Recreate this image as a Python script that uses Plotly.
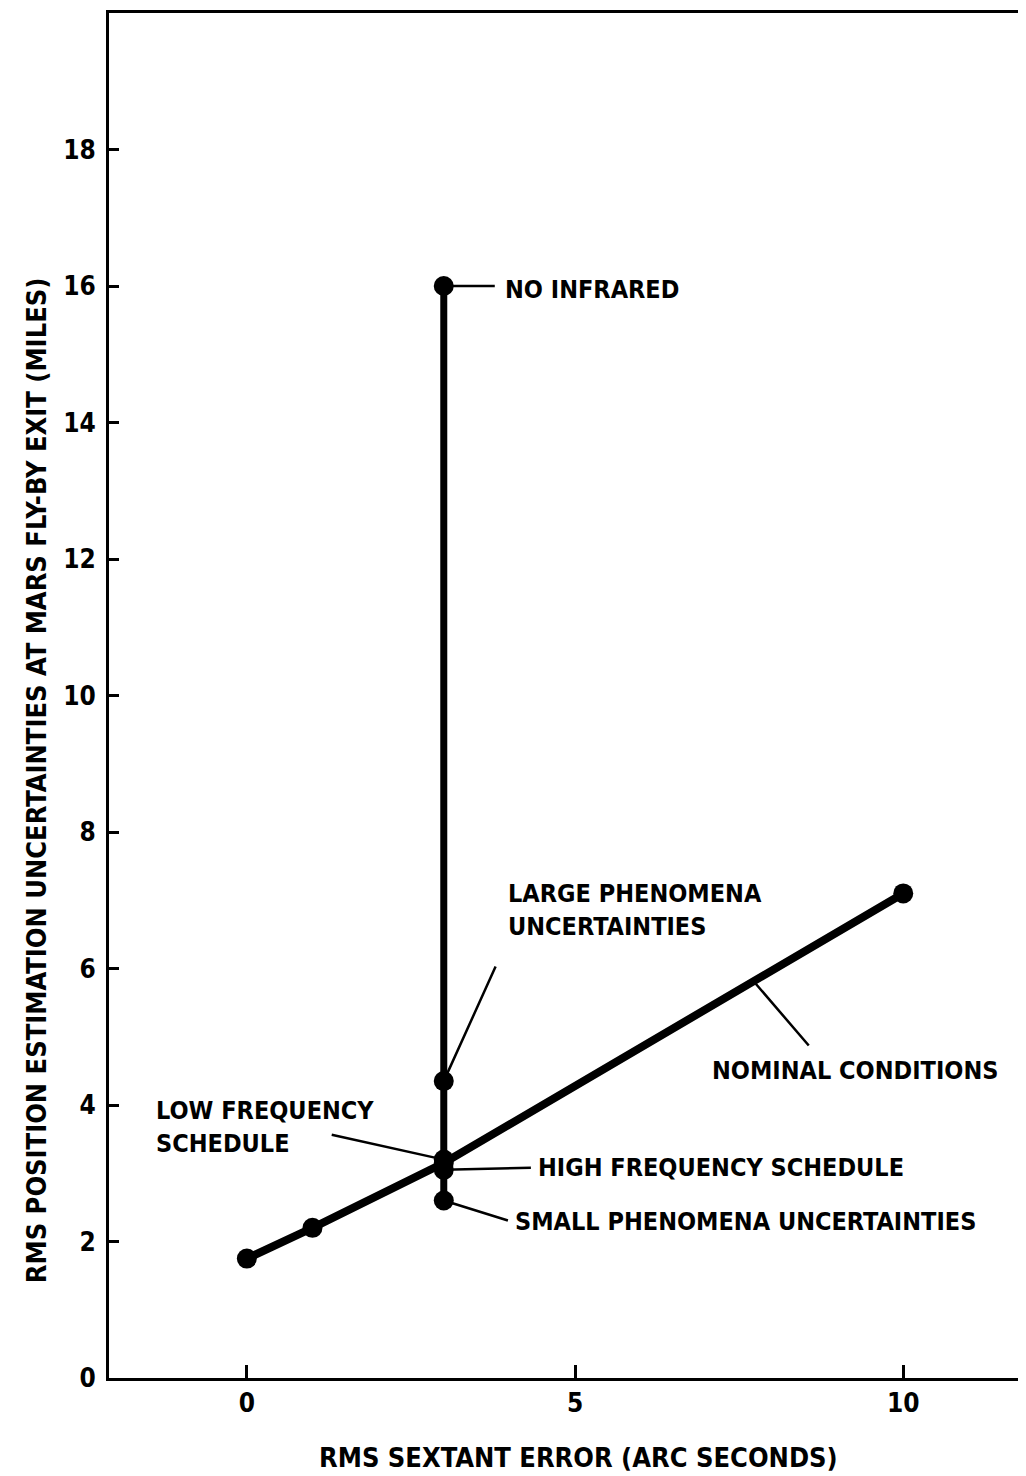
import numpy as np
import plotly.graph_objects as go

# Nominal conditions curve
nominal_x = [0, 1, 3, 10]
nominal_y = [1.75, 2.2, 3.15, 7.1]

# Variations at 3 arc-second sextant error
variant_x = [3, 3, 3, 3, 3]
variant_y = [2.6, 3.05, 3.2, 4.35, 16.0]
variant_names = ["SMALL PHENOMENA UNCERTAINTIES", "HIGH FREQUENCY SCHEDULE",
                 "LOW FREQUENCY SCHEDULE", "LARGE PHENOMENA UNCERTAINTIES", "NO INFRARED"]

x_ticks = [0, 5, 10]
y_ticks = [0, 2, 4, 6, 8, 10, 12, 14, 16, 18]

FONT = "Liberation Sans Narrow, Arial Narrow, DejaVu Sans Condensed, sans-serif"
fsize_lab = 25
fsize_ax = 27
fsize_tick = 26

fig = go.Figure()
fig.add_trace(go.Scatter(x=variant_x, y=variant_y, mode="lines+markers",
                         line=dict(color="black", width=7),
                         marker=dict(color="black", size=20), showlegend=False))
fig.add_trace(go.Scatter(x=nominal_x, y=nominal_y, mode="lines+markers",
                         line=dict(color="black", width=8),
                         marker=dict(color="black", size=20), showlegend=False))

def lead(hx, hy, tx, ty):
    fig.add_annotation(x=hx, y=hy, ax=tx, ay=ty, xref="x", yref="y", axref="x", ayref="y",
                       text="", showarrow=True, arrowhead=0, arrowwidth=2.5,
                       arrowcolor="black")

def label(x, y, txt, xanchor="left", yanchor="middle"):
    fig.add_annotation(x=x, y=y, xref="x", yref="y", text=txt, showarrow=False,
                       xanchor=xanchor, yanchor=yanchor, align="left",
                       font=dict(family=FONT, size=fsize_lab, color="black", weight="bold"))

nom_at = lambda xx: float(np.interp(xx, nominal_x, nominal_y))

# NO INFRARED
lead(3, variant_y[4], 3.8, variant_y[4])
label(3.9, 15.95, "NO INFRARED")
# LARGE PHENOMENA
lead(3, variant_y[3], 3.8, 6.05)
label(3.95, 6.86, "LARGE PHENOMENA<br>UNCERTAINTIES")
# NOMINAL CONDITIONS
lead(7.72, nom_at(7.72), 8.58, 4.85)
label(7.05, 4.5, "NOMINAL CONDITIONS")
# LOW FREQUENCY
lead(3, variant_y[2], 1.27, 3.57)
label(-1.42, 3.68, "LOW FREQUENCY<br>SCHEDULE")
# HIGH FREQUENCY
lead(3, variant_y[1], 4.35, 3.08)
label(4.4, 3.08, "HIGH FREQUENCY SCHEDULE")
# SMALL PHENOMENA
lead(3, variant_y[0], 4.0, 2.3)
label(4.05, 2.3, "SMALL PHENOMENA UNCERTAINTIES")

# axis titles
fig.add_annotation(xref="paper", yref="paper", x=-0.0795, y=0.438, textangle=-90,
                   text="RMS POSITION ESTIMATION UNCERTAINTIES AT MARS FLY-BY EXIT (MILES)",
                   showarrow=False, xanchor="center", yanchor="middle",
                   font=dict(family=FONT, size=fsize_ax, color="black", weight="bold"))
fig.add_annotation(xref="paper", yref="paper", x=0.512, y=-0.0586,
                   text="RMS SEXTANT ERROR (ARC SECONDS)",
                   showarrow=False, xanchor="center", yanchor="middle",
                   font=dict(family=FONT, size=fsize_ax, color="black", weight="bold"))

fig.update_xaxes(range=[-2.1, 11.87], tickvals=x_ticks, ticktext=[str(v) for v in x_ticks],
                 showgrid=False, zeroline=False, showline=True, linecolor="black", linewidth=3,
                 mirror=True, ticks="inside", ticklen=13, tickwidth=3, tickcolor="black",
                 tickfont=dict(family=FONT, size=fsize_tick, color="black", weight="bold"))
fig.update_yaxes(range=[0, 20], tickvals=y_ticks, ticktext=[str(v) for v in y_ticks],
                 showgrid=False, zeroline=False, showline=True, linecolor="black", linewidth=3,
                 mirror=False, ticks="inside", ticklen=10, tickwidth=3, tickcolor="black",
                 ticklabelstandoff=5,
                 tickfont=dict(family=FONT, size=fsize_tick, color="black", weight="bold"))

fig.update_layout(width=1018, height=1468, margin=dict(l=101, r=0, t=5, b=98),
                  plot_bgcolor="white", paper_bgcolor="white", showlegend=False)

fig.write_html("out.html")
